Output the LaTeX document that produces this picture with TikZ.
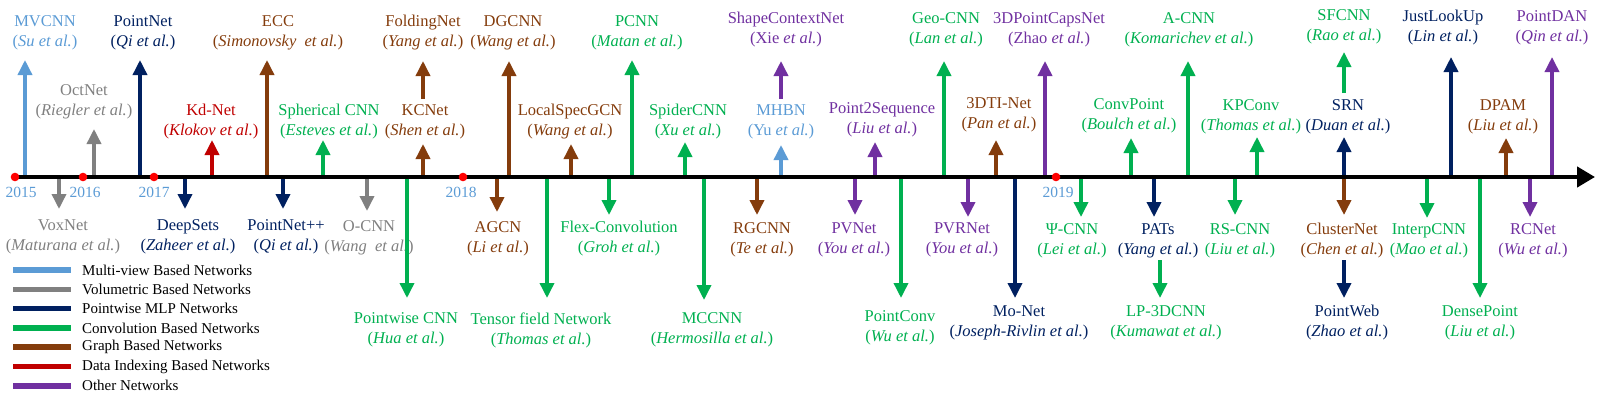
\documentclass[tikz,border=0pt]{standalone}
\usepackage{fontspec}
\setmainfont{Liberation Serif}
\usepackage{tikz}
\usetikzlibrary{arrows.meta}
\definecolor{cmv}{RGB}{91,155,213}
\definecolor{cvol}{RGB}{128,128,128}
\definecolor{cmlp}{RGB}{0,32,96}
\definecolor{cconv}{RGB}{0,176,80}
\definecolor{cgraph}{RGB}{132,60,12}
\definecolor{cidx}{RGB}{192,0,0}
\definecolor{coth}{RGB}{112,48,160}
\newcommand{\etal}[1]{(\textit{#1 et al.})}
\newcommand{\etar}[1]{(#1 \textit{et al.})}
\newcommand{\net}[7]{%
  \coordinate (#1-t) at (#3,#4);
  \node[lab=#2] (#1) at (#5,#6) {#7};
  \draw[arr=#2] (#1-t |- o) -- (#1-t);}
\newcommand{\netst}[8]{%
  \coordinate (#1-s) at (#3,#8);
  \coordinate (#1-t) at (#3,#4);
  \node[lab=#2] (#1) at (#5,#6) {#7};
  \draw[arr=#2] (#1-s) -- (#1-t);}
\tikzset{
  lab/.style={text=#1, align=center, inner sep=1pt, font=\fontsize{16.5}{20}\selectfont},
  arr/.style={draw=#1, line width=3.5pt, -{Triangle[width=14pt,length=15pt]}},
  axis/.style={line width=4.3pt, -{Triangle[width=20pt,length=18pt]}},
  yr/.style={text=cmv, inner sep=0pt, font=\fontsize{15.5}{18}\selectfont},
  dot/.style={circle, fill=red, inner sep=0pt, minimum size=8.6pt},
  legt/.style={anchor=west, inner sep=0pt, font=\fontsize{15}{18}\selectfont},
  legl/.style={draw=#1, line width=5.5pt}
}
\begin{document}
\begin{tikzpicture}[x=1pt, y=-1pt]
\useasboundingbox (0,0) rectangle (1608,407);
\coordinate (o) at (15,177);
\coordinate (e) at (1595,177);
\net{mvcnn}{cmv}{25}{60}{45}{33}{MVCNN\\\etal{Su}}
\net{octnet}{cvol}{94}{129}{84}{102}{OctNet\\\etal{Riegler}}
\net{pointnet}{cmlp}{140}{60}{143}{33}{PointNet\\\etal{Qi}}
\net{kdnet}{cidx}{212}{140}{211}{122}{Kd-Net\\\etal{Klokov}}
\net{ecc}{cgraph}{267}{60}{278}{33}{ECC\\(\textit{Simonovsky~~et al.})}
\net{spherical}{cconv}{323}{140}{329}{122}{Spherical CNN\\\etal{Esteves}}
\net{kcnet}{cgraph}{423}{144}{425}{122}{KCNet\\\etal{Shen}}
\netst{foldingnet}{cgraph}{423}{61}{423}{33}{FoldingNet\\\etal{Yang}}{99}
\net{dgcnn}{cgraph}{509}{61}{513}{33}{DGCNN\\\etal{Wang}}
\net{localspec}{cgraph}{571}{144}{570}{122}{LocalSpecGCN\\\etal{Wang}}
\net{pcnn}{cconv}{632}{60}{637}{33}{PCNN\\\etal{Matan}}
\net{spider}{cconv}{685}{142}{688}{122}{SpiderCNN\\\etal{Xu}}
\net{mhbn}{cmv}{781}{145}{781}{122}{MHBN\\\etar{Yu}}
\netst{shapectx}{coth}{781}{61}{786}{30}{ShapeContextNet\\\etar{Xie}}{99}
\net{p2seq}{coth}{875}{142}{882}{120}{Point2Sequence\\\etal{Liu}}
\net{geocnn}{cconv}{944}{61}{946}{30}{Geo-CNN\\\etal{Lan}}
\net{dtinet}{cgraph}{996}{140}{999}{115}{3DTI-Net\\\etal{Pan}}
\net{capsnet}{coth}{1045}{61}{1049}{30}{3DPointCapsNet\\\etar{Zhao}}
\net{convpoint}{cconv}{1131}{138}{1129}{116}{ConvPoint\\\etal{Boulch}}
\net{acnn}{cconv}{1188}{61}{1189}{30}{A-CNN\\\etal{Komarichev}}
\net{kpconv}{cconv}{1257}{137}{1251}{117}{KPConv\\\etal{Thomas}}
\net{srn}{cmlp}{1344}{137}{1348}{117}{SRN\\\etal{Duan}}
\netst{sfcnn}{cconv}{1344}{52}{1344}{27}{SFCNN\\\etal{Rao}}{93}
\net{justlookup}{cmlp}{1451}{57}{1443}{28}{JustLookUp\\\etal{Lin}}
\net{dpam}{cgraph}{1506}{138}{1503}{117}{DPAM\\\etal{Liu}}
\net{pointdan}{coth}{1552}{57}{1552}{28}{PointDAN\\\etal{Qin}}
\net{voxnet}{cvol}{59}{209}{63}{237}{VoxNet\\\etal{Maturana}}
\net{deepsets}{cmlp}{185}{209}{188}{237}{DeepSets\\\etal{Zaheer}}
\net{pointnetpp}{cmlp}{283}{209}{286}{237}{PointNet++\\\etal{Qi}}
\net{ocnn}{cvol}{367}{211}{369}{238}{O-CNN\\(\textit{Wang~~et al.})}
\net{pwcnn}{cconv}{407}{298}{406}{330}{Pointwise CNN\\\etal{Hua}}
\net{agcn}{cgraph}{497}{212}{498}{239}{AGCN\\\etal{Li}}
\net{tfn}{cconv}{547}{298}{541}{330}{Tensor field Network\\\etal{Thomas}}
\net{flexconv}{cconv}{609}{215}{619}{239}{Flex-Convolution\\\etal{Groh}}
\net{mccnn}{cconv}{704}{300}{712}{330}{MCCNN\\\etal{Hermosilla}}
\net{rgcnn}{cgraph}{757}{215}{762}{240}{RGCNN\\\etal{Te}}
\net{pvnet}{coth}{855}{215}{854}{240}{PVNet\\\etal{You}}
\net{pointconv}{cconv}{901}{298}{900}{328}{PointConv\\\etal{Wu}}
\net{pvrnet}{coth}{968}{217}{962}{240}{PVRNet\\\etal{You}}
\net{monet}{cmlp}{1015}{298}{1019}{323}{Mo-Net\\\etal{Joseph-Rivlin}}
\net{psicnn}{cconv}{1081}{217}{1072}{241}{Ψ-CNN\\\etal{Lei}}
\net{pats}{cmlp}{1154}{217}{1158}{241}{PATs\\\etal{Yang}}
\netst{lp3dcnn}{cconv}{1160}{298}{1166}{323}{LP-3DCNN\\\etal{Kumawat}}{260}
\net{rscnn}{cconv}{1235}{215}{1240}{241}{RS-CNN\\\etal{Liu}}
\net{clusternet}{cgraph}{1344}{215}{1342}{241}{ClusterNet\\\etal{Chen}}
\netst{pointweb}{cmlp}{1344}{298}{1347}{323}{PointWeb\\\etal{Zhao}}{260}
\net{interp}{cconv}{1427}{218}{1429}{241}{InterpCNN\\\etal{Mao}}
\net{densepoint}{cconv}{1480}{298}{1480}{323}{DensePoint\\\etal{Liu}}
\net{rcnet}{coth}{1530}{217}{1533}{241}{RCNet\\\etal{Wu}}
\draw[axis] (o) -- (e);
\node[dot] (d2015) at (15,177) {};
\node[dot] (d2016) at (83,177) {};
\node[dot] (d2017) at (154,177) {};
\node[dot] (d2018) at (463,177) {};
\node[dot] (d2019) at (1056,177) {};
\node[yr] (y2015) at (21,192) {2015};
\node[yr] (y2016) at (85,192) {2016};
\node[yr] (y2017) at (154,192) {2017};
\node[yr] (y2018) at (461,192) {2018};
\node[yr] (y2019) at (1058,192) {2019};
\foreach \col/\txt [count=\i] in {cmv/Multi-view Based Networks, cvol/Volumetric Based Networks, cmlp/Pointwise MLP Networks, cconv/Convolution Based Networks, cgraph/Graph Based Networks, cidx/Data Indexing Based Networks, coth/Other Networks}{
  \node[legt] (leg\i) at (82,{270+19.3*(\i-1)}) {\txt};
  \draw[legl=\col] ([xshift=-69pt]leg\i.west) -- ([xshift=-11pt]leg\i.west);
}
\end{tikzpicture}
\end{document}
